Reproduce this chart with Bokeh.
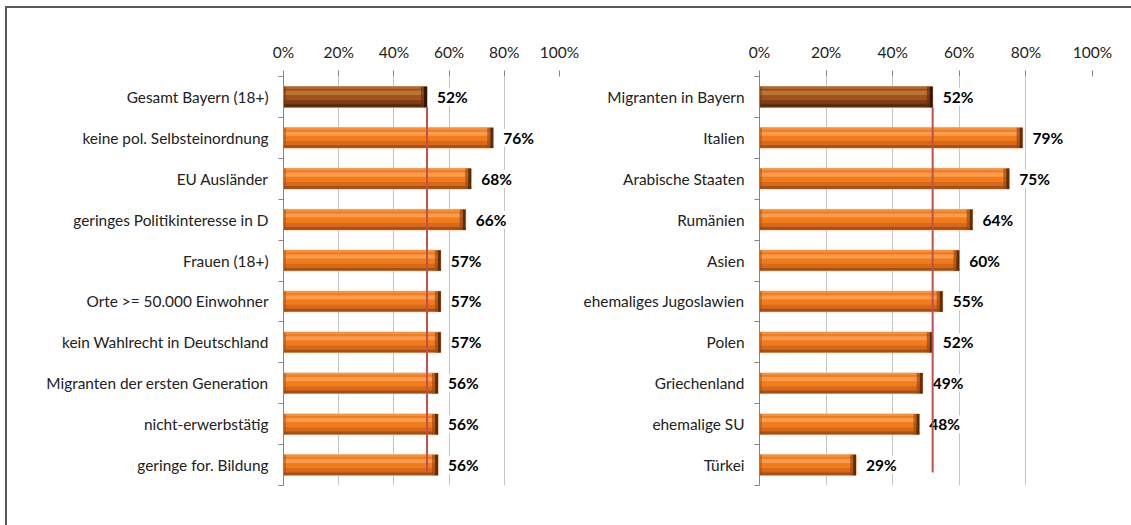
from bokeh.plotting import figure
from bokeh.layouts import row, column
from bokeh.models import ColumnDataSource, Range1d, FixedTicker, Div, Spacer
from bokeh.embed import file_html
from bokeh.resources import INLINE
from bokeh.core.properties import value

left_categories = ["Gesamt Bayern (18+)", "keine pol. Selbsteinordnung", "EU Ausländer",
                   "geringes Politikinteresse in D", "Frauen (18+)", "Orte >= 50.000 Einwohner",
                   "kein Wahlrecht in Deutschland", "Migranten der ersten Generation",
                   "nicht-erwerbstätig", "geringe for. Bildung"]
left_values = [52, 76, 68, 66, 57, 57, 57, 56, 56, 56]

right_categories = ["Migranten in Bayern", "Italien", "Arabische Staaten", "Rumänien", "Asien",
                    "ehemaliges Jugoslawien", "Polen", "Griechenland", "ehemalige SU", "Türkei"]
right_values = [52, 79, 75, 64, 60, 55, 52, 49, 48, 29]

x_ticks = [0, 20, 40, 60, 80, 100]
x_tick_labels = ["0%", "20%", "40%", "60%", "80%", "100%"]

FONT = "Lato"
AXIS_GRAY = "#868686"
FRAME_GRAY = "#595959"

ORANGE = dict(base="#D9691A", main="#F27C1C", light="#FAA760", dark="#9A4810",
              cap="#5E2D08", bev="#A04A0E", edge="#F6B585")
BROWN = dict(base="#7E3C12", main="#A0521C", light="#C4803F", dark="#4E2408",
             cap="#331503", bev="#6A320C", edge="#C88A5A")


def make_chart(categories, values, width, height, border_left, frame_w, border_top, frame_h):
    n = len(categories)
    p = figure(width=width, height=height, x_range=Range1d(0, 100), y_range=Range1d(n, 0),
               x_axis_location="above", output_backend="svg", toolbar_location=None,
               min_border_left=border_left, min_border_right=width - border_left - frame_w,
               min_border_top=border_top, min_border_bottom=height - border_top - frame_h)
    p.outline_line_color = None
    p.background_fill_color = "white"
    p.border_fill_color = "white"

    yc = [i + 0.5 for i in range(n)]
    pal = [BROWN if i == 0 else ORANGE for i in range(n)]
    cap = 3.0 * 100.0 / frame_w
    src = ColumnDataSource(dict(
        y=yc, v=values,
        lbl=[f"{v}%" for v in values],
        top=[y - 0.25 for y in yc], bot=[y + 0.25 for y in yc],
        mbot=[y + 0.08 for y in yc],
        dtop=[y + 0.18 for y in yc],
        htop=[y - 0.15 for y in yc], hbot=[y - 0.05 for y in yc],
        etop=[y - 0.25 for y in yc], ebot=[y - 0.20 for y in yc],
        zero=[0] * n,
        capl=[v - cap for v in values],
        bevl=[v - 2 * cap for v in values],
        lcap=[cap * 0.8] * n,
        c_base=[c["base"] for c in pal], c_main=[c["main"] for c in pal],
        c_light=[c["light"] for c in pal], c_cap=[c["cap"] for c in pal],
        c_bev=[c["bev"] for c in pal], c_edge=[c["edge"] for c in pal],
        c_dark=[c["dark"] for c in pal],
    ))

    # bevelled bar layers
    p.quad(left="zero", right="v", top="top", bottom="bot", source=src,
           fill_color="c_base", line_color="c_edge", line_width=1)
    p.quad(left="zero", right="v", top="top", bottom="mbot", source=src,
           fill_color="c_main", line_color=None)
    p.quad(left="zero", right="v", top="dtop", bottom="bot", source=src,
           fill_color="c_dark", fill_alpha=0.8, line_color=None)
    p.quad(left="zero", right="v", top="etop", bottom="ebot", source=src,
           fill_color="c_light", fill_alpha=0.5, line_color=None)
    p.quad(left="zero", right="v", top="htop", bottom="hbot", source=src,
           fill_color="c_light", fill_alpha=0.75, line_color=None)
    p.quad(left="zero", right="lcap", top="top", bottom="bot", source=src,
           fill_color="c_bev", fill_alpha=0.5, line_color=None)
    p.quad(left="bevl", right="capl", top="top", bottom="bot", source=src,
           fill_color="c_bev", fill_alpha=0.7, line_color=None)
    p.quad(left="capl", right="v", top="top", bottom="bot", source=src,
           fill_color="c_cap", line_color=None)

    # value labels
    p.text(x="v", y="y", text="lbl", source=src, x_offset=10, text_align="left",
           text_baseline="middle", text_font=value(FONT), text_font_style="bold",
           text_font_size="15.5px", text_color="black",
           background_fill_color="white")

    # reference line at the overall value
    ref = values[0]
    p.segment(x0=[ref], y0=[yc[0] + 0.25], x1=[ref], y1=[yc[-1] + 0.18],
              line_color="#C0504D", line_width=2)

    # x axis (top)
    xa = p.xaxis[0]
    xa.ticker = FixedTicker(ticks=x_ticks, minor_ticks=[])
    xa.major_label_overrides = {t: l for t, l in zip(x_ticks, x_tick_labels)}
    xa.axis_line_color = None
    xa.major_tick_out = 6
    xa.major_tick_in = 0
    xa.major_tick_line_color = AXIS_GRAY
    xa.major_label_standoff = 10
    xa.major_label_text_font = FONT
    xa.major_label_text_font_size = "15.5px"
    xa.major_label_text_color = "#222222"

    # category axis (left), ticks between categories
    ya = p.yaxis[0]
    ya.ticker = FixedTicker(ticks=yc, minor_ticks=list(range(n + 1)))
    ya.major_label_overrides = {y: c for y, c in zip(yc, categories)}
    ya.axis_line_color = AXIS_GRAY
    ya.major_tick_out = 0
    ya.major_tick_in = 0
    ya.minor_tick_out = 5
    ya.minor_tick_in = 0
    ya.minor_tick_line_color = AXIS_GRAY
    ya.major_label_standoff = 10
    ya.major_label_text_font = FONT
    ya.major_label_text_font_size = "15.4px"
    ya.major_label_text_color = "#222222"

    p.xgrid.grid_line_color = "#C4C4C4"
    p.xgrid.ticker = FixedTicker(ticks=x_ticks)
    p.ygrid.grid_line_color = None
    return p


# content origin sits at page (7, 8): 5px/6px offset + 2px frame bars
H = 517
p1 = make_chart(left_categories, left_values, width=573, height=H,
                border_left=276, frame_w=276, border_top=68, frame_h=409)
p2 = make_chart(right_categories, right_values, width=545, height=H,
                border_left=175, frame_w=337, border_top=68, frame_h=409)

top_bar = Div(text="", width=1126, height=2, margin=0,
              styles={"background-color": FRAME_GRAY})
left_bar = Div(text="", width=2, height=H, margin=0,
               styles={"background-color": FRAME_GRAY})

layout = column(Spacer(height=6, margin=0),
                row(Spacer(width=5, margin=0),
                    column(top_bar, row(left_bar, p1, p2, spacing=0), spacing=0),
                    spacing=0),
                spacing=0)

open("out.html", "w").write(file_html(layout, INLINE))
